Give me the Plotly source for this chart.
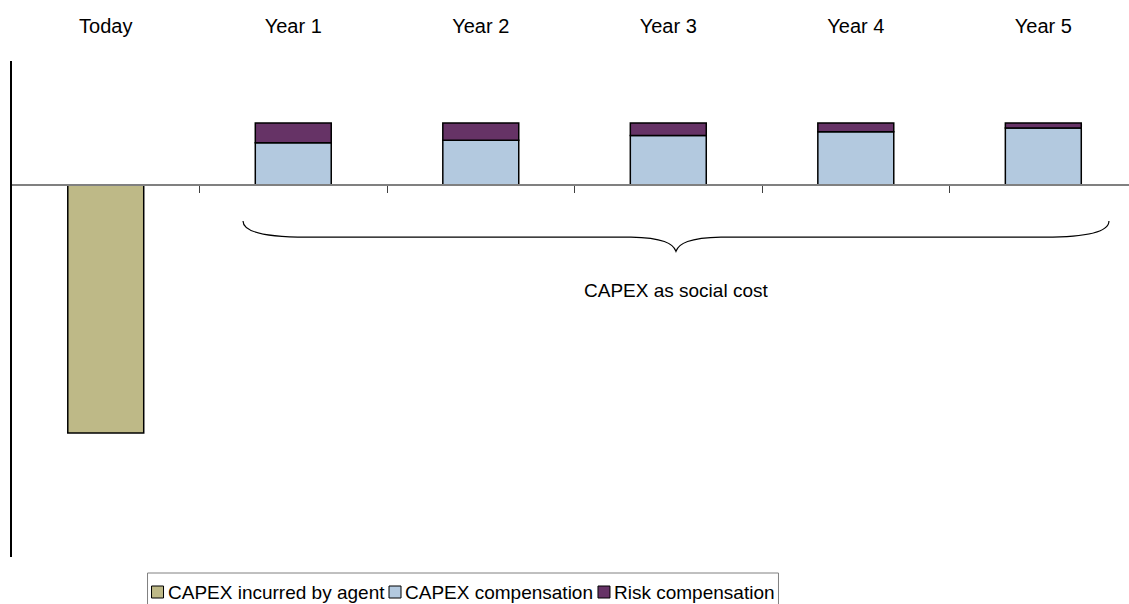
import plotly.graph_objects as go

# Time periods along the horizontal axis
categories = ["Today", "Year 1", "Year 2", "Year 3", "Year 4", "Year 5"]

# Upfront investment borne by the agent (only at "Today")
capex_incurred = [-100]
# Annual compensation paid back over years 1-5
capex_compensation = [17, 18, 20, 21.5, 23]
risk_compensation = [8, 7, 5, 3.5, 2]

series_names = ["CAPEX incurred by agent", "CAPEX compensation", "Risk compensation"]
colors = ["#BEB987", "#B3C9DF", "#663366"]

FONT = "Liberation Sans, Arial, sans-serif"
W, H = 1129, 604
M_L, M_R, M_T, M_B = 12, 0, 61, 47
X_RANGE = [-0.5, 5.457]
Y_RANGE = [-150, 50]
BAR_W = 0.405
outline = dict(color="#000000", width=1.5)

fig = go.Figure()
fig.add_trace(go.Bar(x=categories[:1], y=capex_incurred, name=series_names[0],
                     marker=dict(color=colors[0], line=outline), width=BAR_W))
fig.add_trace(go.Bar(x=categories[1:], y=capex_compensation, name=series_names[1],
                     marker=dict(color=colors[1], line=outline), width=BAR_W))
fig.add_trace(go.Bar(x=categories[1:], y=risk_compensation, name=series_names[2],
                     marker=dict(color=colors[2], line=outline), width=BAR_W))

# Brace under years 1-5, in axis units of the linear overlay axis
left, right = 0.732, 5.35
mid = (left + right) / 2
y_end, y_flat, y_tip = -14.5, -21.0, -26.7
brace = (
    f"M {left},{y_end} C {left},{y_flat + 2.5} {left + 0.1},{y_flat} {left + 0.34},{y_flat} "
    f"L {mid - 0.24},{y_flat} "
    f"C {mid - 0.07},{y_flat - 0.3} {mid - 0.015},{y_flat - 2.5} {mid},{y_tip} "
    f"C {mid + 0.015},{y_flat - 2.5} {mid + 0.07},{y_flat - 0.3} {mid + 0.24},{y_flat} "
    f"L {right - 0.34},{y_flat} "
    f"C {right - 0.1},{y_flat} {right},{y_flat + 2.5} {right},{y_end}"
)
fig.add_shape(type="path", path=brace, xref="x2", yref="y",
              line=dict(color="#000000", width=1.2))

fig.add_annotation(x=mid, y=-42.4, xref="x2", yref="y", text="CAPEX as social cost",
                   showarrow=False, font=dict(size=19, color="#000000", family=FONT),
                   xanchor="center", yanchor="middle")

# Compact legend row: colour box immediately followed by its label
ARIAL = {"C": 722, "A": 667, "P": 667, "E": 667, "X": 667, " ": 278, "i": 222,
         "n": 556, "c": 500, "u": 556, "r": 333, "e": 556, "d": 556, "b": 556,
         "y": 500, "a": 556, "g": 556, "t": 278, "o": 556, "m": 833, "p": 556,
         "s": 500, "R": 722, "k": 500, "l": 222}
LEG_FONT = 19


def text_width(s, size):
    return sum(ARIAL.get(ch, 556) for ch in s) / 1000 * size


plot_w = W - M_L - M_R
plot_h = H - M_T - M_B


def px_to_paper(px, py):
    return (px - M_L) / plot_w, (H - M_B - py) / plot_h


pad, box, gap_in, gap_out = 4, 12, 4, 5
widths = [text_width(n, LEG_FONT) for n in series_names]
total = 2 * pad + sum(box + gap_in + w for w in widths) + gap_out * (len(widths) - 1)
leg_cx, leg_top, leg_bot, row_y = 463, 573, 606, 592
x = leg_cx - total / 2
bx0, by0 = px_to_paper(x, leg_bot)
bx1, by1 = px_to_paper(x + total, leg_top)
fig.add_shape(type="rect", xref="paper", yref="paper", x0=bx0, x1=bx1, y0=by0, y1=by1,
              line=dict(color="#808080", width=1), fillcolor="rgba(0,0,0,0)")
x += pad
for name, col, w in zip(series_names, colors, widths):
    sx0, sy0 = px_to_paper(x, row_y + box / 2)
    sx1, sy1 = px_to_paper(x + box, row_y - box / 2)
    fig.add_shape(type="rect", xref="paper", yref="paper", x0=sx0, x1=sx1, y0=sy0, y1=sy1,
                  line=dict(color="#000000", width=1), fillcolor=col)
    tx, ty = px_to_paper(x + box + gap_in - 1, row_y)
    fig.add_annotation(x=tx, y=ty, xref="paper", yref="paper", text=name, showarrow=False,
                       xanchor="left", yanchor="middle", borderpad=0,
                       font=dict(size=LEG_FONT, color="#000000", family=FONT))
    x += box + gap_in + w + gap_out

fig.update_layout(
    width=W, height=H,
    margin=dict(l=M_L, r=M_R, t=M_T, b=M_B, autoexpand=False),
    paper_bgcolor="white", plot_bgcolor="white",
    barmode="relative",
    showlegend=False,
    font=dict(family=FONT, color="#000000"),
    xaxis=dict(type="category", range=X_RANGE, side="top", showline=False, ticks="",
               showgrid=False, zeroline=False, tickfont=dict(size=20),
               ticklabelstandoff=23),
    xaxis2=dict(type="linear", overlaying="x", anchor="free", position=0.75, side="bottom",
                range=X_RANGE, showline=True, linecolor="#808080", linewidth=1.5,
                ticks="outside", tickvals=[i + 0.5 for i in range(len(categories) - 1)],
                ticklen=7, tickcolor="#404040", tickwidth=1.2,
                showticklabels=False, showgrid=False, zeroline=False),
    yaxis=dict(range=Y_RANGE, showline=True, linecolor="#000000", linewidth=1.5,
               ticks="", showticklabels=False, showgrid=False, zeroline=False),
)

fig.write_html("out.html")
